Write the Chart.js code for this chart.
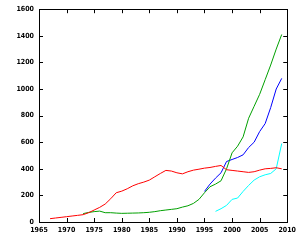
<!DOCTYPE html>
<html>
<head>
<meta charset="utf-8">
<script src="https://cdn.jsdelivr.net/npm/chart.js@4"></script>
<style>
  html, body { margin: 0; padding: 0; background: #fff; }
  #wrap { width: 300px; height: 240px; }
</style>
</head>
<body>
<div id="wrap"><canvas id="chart"></canvas></div>
<script>
// values, one per year
const redYears = [1967,1968,1969,1970,1971,1972,1973,1974,1975,1976,1977,1978,1979,1980,1981,1982,1983,1984,1985,1986,1987,1988,1989,1990,1991,1992,1993,1994,1995,1996,1997,1998,1999,2000,2001,2002,2003,2004,2005,2006,2007,2008,2009];
const redValues = [25,30,35,40,45,50,55,70,90,110,135,175,220,232,250,272,288,300,315,340,365,388,383,370,362,378,390,397,405,410,418,425,393,388,383,378,373,378,390,400,403,408,400];

const greenYears = [1973,1974,1975,1976,1977,1978,1979,1980,1981,1982,1983,1984,1985,1986,1987,1988,1989,1990,1991,1992,1993,1994,1995,1996,1997,1998,1999,2000,2001,2002,2003,2004,2005,2006,2007,2008,2009];
const greenValues = [63,72,78,82,70,70,67,65,66,67,68,70,73,78,85,90,95,100,112,122,140,170,220,265,285,310,400,520,570,640,780,870,960,1070,1180,1300,1410];

const blueYears = [1995,1996,1997,1998,1999,2000,2001,2002,2003,2004,2005,2006,2007,2008,2009];
const blueValues = [230,285,330,370,455,470,485,505,560,600,680,740,860,1000,1080];

const cyanYears = [1997,1998,1999,2000,2001,2002,2003,2004,2005,2006,2007,2008,2009];
const cyanValues = [80,100,125,170,180,230,275,315,340,355,365,400,590];

const xTicks = [1965,1970,1975,1980,1985,1990,1995,2000,2005,2010];
const yTicks = [0,200,400,600,800,1000,1200,1400,1600];

function pts(xs, ys) {
  return xs.map((x, i) => ({ x: x, y: ys[i] }));
}

function series(xs, ys, color) {
  return {
    data: pts(xs, ys),
    borderColor: color,
    borderWidth: 1,
    pointRadius: 0,
    tension: 0,
    fill: false
  };
}

// gnuplot-like frame with ticks pointing inward on all sides
const frame = {
  id: 'frame',
  afterDraw(chart) {
    const c = chart.ctx;
    const a = chart.chartArea;
    const xs = chart.scales.x;
    const ys = chart.scales.y;
    const len = 4;
    c.save();
    c.strokeStyle = '#000';
    c.lineWidth = 1;
    c.beginPath();
    xTicks.forEach(function(v) {
      const px = Math.round(xs.getPixelForValue(v)) + 0.5;
      c.moveTo(px, a.bottom); c.lineTo(px, a.bottom - len);
      c.moveTo(px, a.top); c.lineTo(px, a.top + len);
    });
    yTicks.forEach(function(v) {
      const py = Math.round(ys.getPixelForValue(v)) + 0.5;
      c.moveTo(a.left, py); c.lineTo(a.left + len, py);
      c.moveTo(a.right, py); c.lineTo(a.right - len, py);
    });
    c.stroke();
    c.strokeRect(Math.round(a.left) + 0.5, Math.round(a.top) + 0.5,
                 Math.round(a.right - a.left), Math.round(a.bottom - a.top));
    c.restore();
  }
};

const tickFont = { family: "'DejaVu Sans Condensed', 'DejaVu Sans', sans-serif", size: 7, weight: 'bold' };

new Chart(document.getElementById('chart'), {
  type: 'line',
  data: {
    datasets: [
      series(redYears, redValues, '#ff0000'),
      series(greenYears, greenValues, '#00a000'),
      series(blueYears, blueValues, '#0000ff'),
      series(cyanYears, cyanValues, '#00ffff')
    ]
  },
  options: {
    responsive: true,
    maintainAspectRatio: false,
    animation: false,
    layout: { padding: { top: 8, right: 11, left: 0, bottom: 0 } },
    plugins: { legend: { display: false }, tooltip: { enabled: false } },
    scales: {
      x: {
        type: 'linear',
        min: 1965,
        max: 2010,
        grid: { display: false, drawTicks: false, tickLength: 0 },
        border: { display: false },
        afterBuildTicks: (s) => { s.ticks = xTicks.map(v => ({ value: v })); },
        afterFit: (s) => { s.height = 18; },
        ticks: { color: '#000', font: tickFont, padding: 4, maxRotation: 0, autoSkip: false, callback: (v) => String(v) }
      },
      y: {
        min: 0,
        max: 1600,
        grid: { display: false, drawTicks: false, tickLength: 0 },
        border: { display: false },
        afterBuildTicks: (s) => { s.ticks = yTicks.map(v => ({ value: v })); },
        afterFit: (s) => { s.width = 39; },
        ticks: { color: '#000', font: tickFont, padding: 5, autoSkip: false, callback: (v) => String(v) }
      }
    }
  },
  plugins: [frame]
});
</script>
</body>
</html>
